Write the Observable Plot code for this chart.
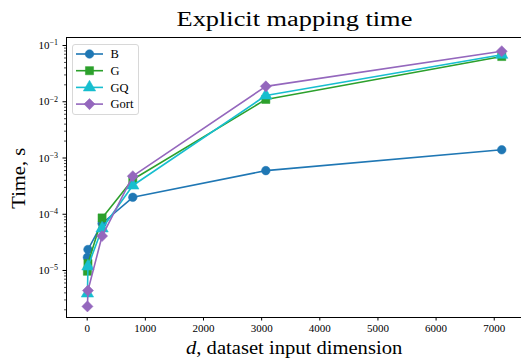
<!DOCTYPE html>
<html><head><meta charset="utf-8">
<script src="https://cdn.jsdelivr.net/npm/d3@7"></script>
<script src="https://cdn.jsdelivr.net/npm/@observablehq/plot@0.6"></script>
<style>
body{margin:0;background:#fff}
#wrap{position:relative;width:521px;height:359px;font-family:"Liberation Serif",serif;color:#000;overflow:hidden}
.ov{position:absolute;white-space:nowrap;line-height:1}
#legend{position:absolute;left:72px;top:44px;width:67px;height:71px;border:1px solid #d8d8d8;border-radius:3px;background:rgba(255,255,255,0.8);box-sizing:border-box}
</style></head><body><div id="wrap"></div>
<script>
// ---- data ----
const dims = [4, 13, 256, 784, 3072, 7129];
const seriesNames = ["B", "G", "GQ", "Gort"];
const timeB    = [1.72e-5, 2.36e-5, 6.85e-5, 2.0e-4, 5.97e-4, 1.40e-3];
const timeG    = [9.7e-6, 1.33e-5, 8.6e-5, 4.15e-4, 1.10e-2, 6.37e-2];
const timeGQ   = [3.9e-6, 1.18e-5, 5.6e-5, 3.24e-4, 1.29e-2, 6.84e-2];
const timeGort = [2.3e-6, 4.4e-6, 4.1e-5, 4.75e-4, 1.88e-2, 7.92e-2];
const xTicks = [0, 1000, 2000, 3000, 4000, 5000, 6000, 7000];
const yTicks = [1e-5, 1e-4, 1e-3, 1e-2, 1e-1];
const yTickExp = ["−5", "−4", "−3", "−2", "−1"];
const titleText = "Explicit mapping time";
const yLabelText = "Time, s";

// ---- styling ----
const colors = ["#1f77b4", "#2ca02c", "#17becf", "#9467bd"];
const symbols = ["circle", "square", "triangle", "diamond2"];
const radii = [4.3, 4.6, 4.6, 5.0];
const xDomain = [-356, 7486];
const yDomain = [1.46e-6, 0.1388];

const values = [timeB, timeG, timeGQ, timeGort];
const table = [];
seriesNames.forEach((s, i) => dims.forEach((d, j) => table.push({series: s, d, t: values[i][j]})));

const yMinor = [];
for (let k = -7; k <= -1; k++) for (let m = 2; m <= 9; m++) {
  const v = m * Math.pow(10, k);
  if (v >= yDomain[0] && v <= yDomain[1]) yMinor.push(v);
}

const marks = [
  Plot.axisY({ticks: yMinor, tickSize: 2, tickFormat: () => "", label: null, strokeWidth: 0.7}),
  Plot.axisY({ticks: yTicks, tickSize: 3.5, tickPadding: 5, label: null, fontSize: 11,
    tickFormat: d => "10^" + yTickExp[yTicks.indexOf(d)]}),
  Plot.axisX({ticks: xTicks, tickSize: 3.5, tickPadding: 3, label: null, fontSize: 11,
    tickFormat: d3.format("d")}),
];
seriesNames.forEach((s, i) => {
  const data = table.filter(r => r.series === s);
  marks.push(Plot.line(data, {x: "d", y: "t", stroke: colors[i], strokeWidth: 1.6}));
  marks.push(Plot.dot(data, {x: "d", y: "t", fill: colors[i], stroke: colors[i], strokeWidth: 0.5,
    symbol: symbols[i], r: radii[i]}));
});
marks.push(Plot.ruleX([xDomain[0]], {stroke: "#000", strokeWidth: 1}));
marks.push(Plot.ruleY(yDomain, {stroke: "#000", strokeWidth: 1}));

const svg = Plot.plot({
  width: 521, height: 359,
  marginLeft: 66, marginRight: 0, marginTop: 37, marginBottom: 42,
  style: {fontFamily: "Liberation Serif", fontSize: "11px", color: "#000", background: "#fff"},
  x: {domain: xDomain, range: [66, 522]},
  y: {type: "log", domain: yDomain, range: [317, 37]},
  marks
});
const wrap = document.getElementById("wrap");
wrap.appendChild(svg);

// superscript y tick labels
d3.select(svg).selectAll("text").each(function() {
  const t = this.textContent;
  if (t.startsWith("10^")) {
    const exp = t.slice(3);
    const sel = d3.select(this);
    sel.text("");
    sel.append("tspan").text("10");
    sel.append("tspan").attr("dy", "-0.45em").attr("font-size", "8px").text(exp);
  }
});

// overlay text, stretched horizontally to the reference's (Computer Modern) widths
function ov(html, x, y, size, targetW, rot) {
  const el = document.createElement("div");
  el.className = "ov";
  el.innerHTML = html;
  el.style.fontSize = size + "px";
  el.style.left = "0px"; el.style.top = "0px";
  wrap.appendChild(el);
  const w = el.offsetWidth, h = el.offsetHeight;
  const sx = targetW / w;
  el.style.left = (x - w / 2) + "px";
  el.style.top = (y - h / 2) + "px";
  el.style.transformOrigin = "50% 50%";
  el.style.transform = (rot ? "rotate(" + rot + "deg) " : "") + "scaleX(" + sx + ")";
}
ov(titleText, 294, 19, 20, 236);
ov(yLabelText, 19, 178, 18.5, 61, -90);
ov('<i>d</i>, dataset input dimension', 294, 348, 18.5, 216);

// legend
const leg = document.createElement("div");
leg.id = "legend";
wrap.appendChild(leg);
const lsvg = d3.select(leg).append("svg").attr("width", 67).attr("height", 71)
  .style("position", "absolute").style("left", "-1px").style("top", "-1px");
const symMap = {circle: d3.symbolCircle, square: d3.symbolSquare, triangle: d3.symbolTriangle, diamond2: d3.symbolDiamond2};
seriesNames.forEach((s, i) => {
  const yy = 10 + i * 16.7;
  lsvg.append("line").attr("x1", 4).attr("x2", 31).attr("y1", yy).attr("y2", yy)
    .attr("stroke", colors[i]).attr("stroke-width", 1.6);
  lsvg.append("path").attr("transform", `translate(17.5,${yy})`)
    .attr("d", d3.symbol(symMap[symbols[i]], Math.PI * radii[i] * radii[i])())
    .attr("fill", colors[i]).attr("stroke", colors[i]).attr("stroke-width", 0.5);
  lsvg.append("text").attr("x", 38.5).attr("y", yy).attr("dy", "0.35em")
    .attr("font-family", "Liberation Serif").attr("font-size", 12.5).text(s);
});
</script></body></html>
